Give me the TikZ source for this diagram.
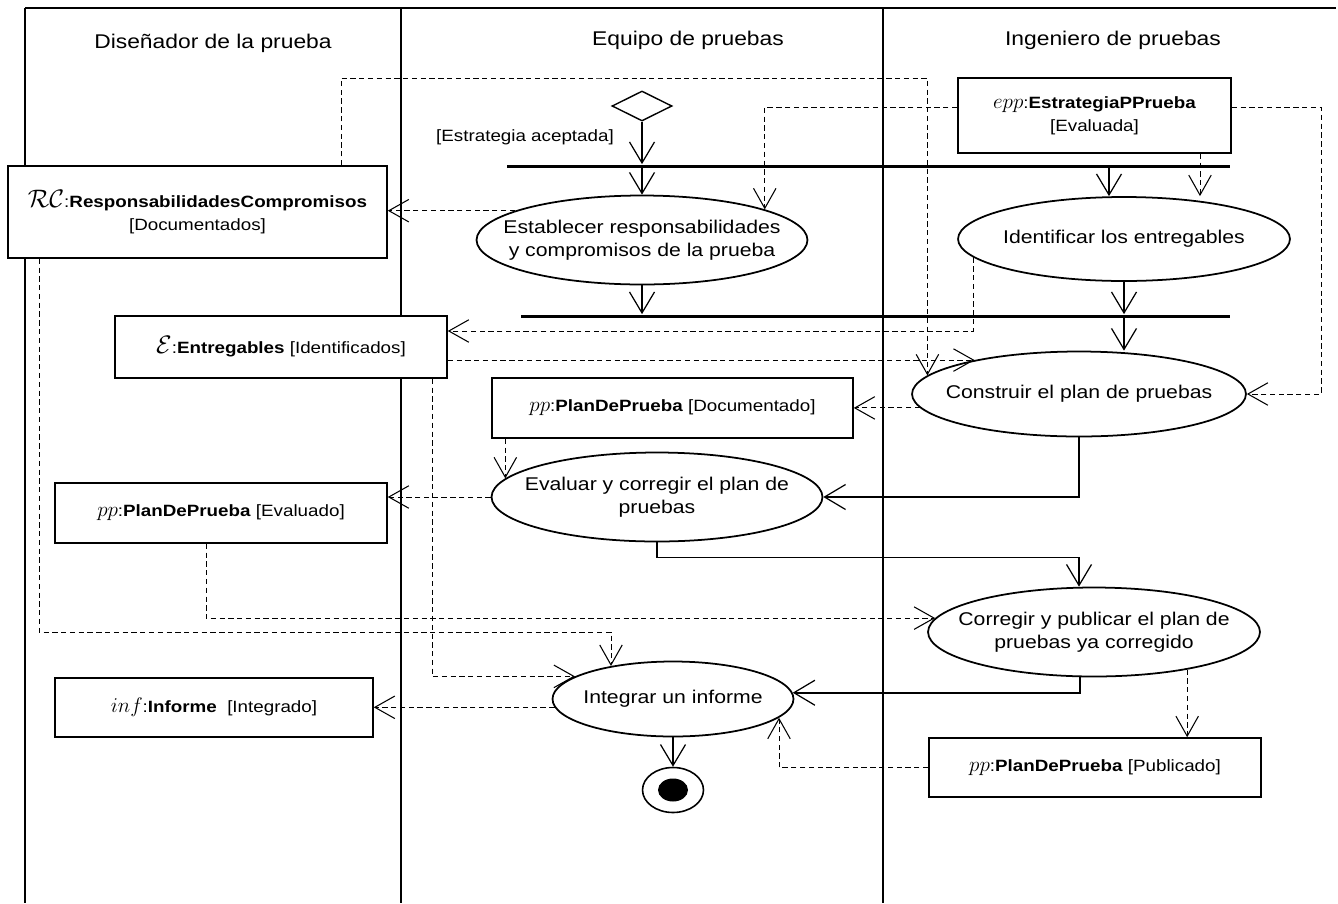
\documentclass[tikz,border=0pt]{standalone}
\usepackage{fontspec}
\setmainfont[FakeStretch=1.15]{Liberation Sans}
\usepackage{tikz}
\usetikzlibrary{shapes.geometric, arrows.meta}
\tikzset{
  lane/.style   = {line width=1.1pt},
  header/.style = {font=\fontsize{11.3}{13}\selectfont},
  guard/.style  = {font=\fontsize{9.3}{11}\selectfont},
  objbox/.style = {rectangle, draw, fill=white, line width=0.9pt, align=center,
                   inner sep=2pt, font=\fontsize{9.3}{13}\selectfont},
  act/.style    = {ellipse, draw, fill=white, line width=1pt, align=center,
                   inner ysep=0pt, inner xsep=-1.5cm,
                   font=\fontsize{10.5}{13}\selectfont},
  bar/.style    = {rectangle, fill=black, inner sep=0pt, minimum height=0.06cm},
  flow/.style   = {-{Straight Barb[length=0.42cm,width=0.5cm,line width=0.7pt]},
                   line width=1pt},
  obj/.style    = {-{Straight Barb[length=0.4cm,width=0.45cm,line width=0.6pt]},
                   densely dashed, line width=0.5pt},
}

\begin{document}
\begin{tikzpicture}[x=0.02cm, y=-0.02cm]
  \useasboundingbox (0,0) rectangle (1338,903);
  \draw[lane] (25,8) -- (1336,8);
  \foreach \x in {25,401,883}
    \draw[lane] (\x,8) -- (\x,903);
  \node[header] (lane1) at (213,43) {Diseñador de la prueba};
  \node[header] (lane2) at (688,40) {Equipo de pruebas};
  \node[header] (lane3) at (1113,40) {Ingeniero de pruebas};

  \node[diamond, draw, line width=0.8pt, aspect=2, inner sep=0pt,
        minimum width=1.2cm, minimum height=0.6cm] (dec) at (642,106) {};
  \node[guard] (accept) at (525,137) {[Estrategia aceptada]};
  \node[bar, minimum width=14.46cm] (fork1) at (868.5,166) {};
  \node[bar, minimum width=14.18cm] (fork2) at (875.5,316) {};

  \node[act, minimum width=6.62cm, minimum height=1.78cm] (est) at (642,240)
        {Establecer responsabilidades\\y compromisos de la prueba};
  \node[act, minimum width=6.64cm, minimum height=1.68cm] (ident) at (1124,239)
        {Identificar los entregables};
  \node[act, minimum width=6.68cm, minimum height=1.7cm] (constr) at (1079,394)
        {Construir el plan de pruebas};
  \node[act, minimum width=6.62cm, minimum height=1.78cm] (eval) at (657,497)
        {Evaluar y corregir el plan de\\pruebas};
  \node[act, minimum width=6.64cm, minimum height=1.78cm] (corr) at (1094,632)
        {Corregir y publicar el plan de\\pruebas ya corregido};
  \node[act, minimum width=4.82cm, minimum height=1.5cm] (integ) at (673,699)
        {Integrar un informe};
  \node[ellipse, draw, line width=0.9pt, inner sep=0pt,
        minimum width=1.22cm, minimum height=0.9cm] (fin) at (673,790) {};
  \node[ellipse, fill=black, inner sep=0pt,
        minimum width=0.6cm, minimum height=0.46cm] (fincore) at (fin) {};

  \node[objbox, minimum width=7.58cm, minimum height=1.84cm] (rc) at (197.5,212)
        {{\fontsize{15}{15}\selectfont$\mathcal{RC}$}:\textbf{ResponsabilidadesCompromisos}\\{[Documentados]}};
  \node[objbox, minimum width=5.46cm, minimum height=1.5cm] (epp) at (1094.5,115.5)
        {{\large$epp$}:\textbf{EstrategiaPPrueba}\\{[Evaluada]}};
  \node[objbox, minimum width=6.64cm, minimum height=1.24cm] (ent) at (281,347)
        {{\fontsize{15}{15}\selectfont$\mathcal{E}$}:\textbf{Entregables} [Identificados]};
  \node[objbox, minimum width=7.22cm, minimum height=1.2cm] (ppdoc) at (672.5,408)
        {{\large$pp$}:\textbf{PlanDePrueba} [Documentado]};
  \node[objbox, minimum width=6.64cm, minimum height=1.2cm] (ppeval) at (221,513)
        {{\large$pp$}:\textbf{PlanDePrueba} [Evaluado]};
  \node[objbox, minimum width=6.36cm, minimum height=1.18cm] (inf) at (214,707.5)
        {{\large$inf$}:\textbf{Informe}\ \ [Integrado]};
  \node[objbox, minimum width=6.64cm, minimum height=1.18cm] (pppub) at (1095,767.5)
        {{\large$pp$}:\textbf{PlanDePrueba} [Publicado]};

  \coordinate (toprun) at (600,78);
  \coordinate (rightrun) at (1321,250);
  \coordinate (lowrun) at (300,632);

  \draw[flow] (dec.south) -- (dec.south |- fork1.north);
  \draw[flow] (fork1.south -| est.north) -- (est.north);
  \draw[flow] ([xshift=-0.3cm]ident.north |- fork1.south) -- ([xshift=-0.3cm]ident.north);
  \draw[flow] (est.south) -- (est.south |- fork2.north);
  \draw[flow] (ident.south) -- (ident.south |- fork2.north);
  \draw[flow] (fork2.south -| ident.south) -- (ident.south |- constr.north);
  \draw[flow] (constr.south) |- (eval.east);
  \draw[flow] (eval.south) -- ++(0,15) -| ([xshift=-0.3cm]corr.north);
  \draw[flow] ([xshift=-0.28cm]corr.south) |- (integ.3);
  \draw[flow] (integ.south) -- (fin.north);

  \draw[obj] ([xshift=2.11cm]epp.south) -- ([xshift=2.11cm]epp.south |- ident.north);
  \draw[obj] ([yshift=0.17cm]epp.west) -| (est.14);
  \draw[obj] ([yshift=0.16cm]epp.east) -| (rightrun) |- (constr.east);
  \draw[obj] ([xshift=2.87cm]rc.north) |- (toprun) -| (constr.173);
  \draw[obj] (est.167) -- (est.167 -| rc.east);
  \draw[obj] (ident.187) |- ([yshift=0.32cm]ent.east);
  \draw[obj] (ent.east |- constr.162) -- (constr.162);
  \draw[obj] (constr.185) -- (constr.185 -| ppdoc.east);
  \draw[obj] (ppdoc.south -| eval.173) -- (eval.173);
  \draw[obj] (eval.west) -- (eval.west -| ppeval.east);
  \draw[obj] ([xshift=-0.3cm]ppeval.south) |- (corr.175);
  \draw[obj] (corr.-22) -- (corr.-22 |- pppub.north);
  \draw[obj] (pppub.west) -| (integ.-10);
  \draw[obj] (integ.184) -- (integ.184 -| inf.east);
  \draw[obj] ([xshift=-3.17cm]rc.south) |- (lowrun) -| (integ.152);
  \draw[obj] ([xshift=3.02cm]ent.south) |- (integ.167);
\end{tikzpicture}
\end{document}
